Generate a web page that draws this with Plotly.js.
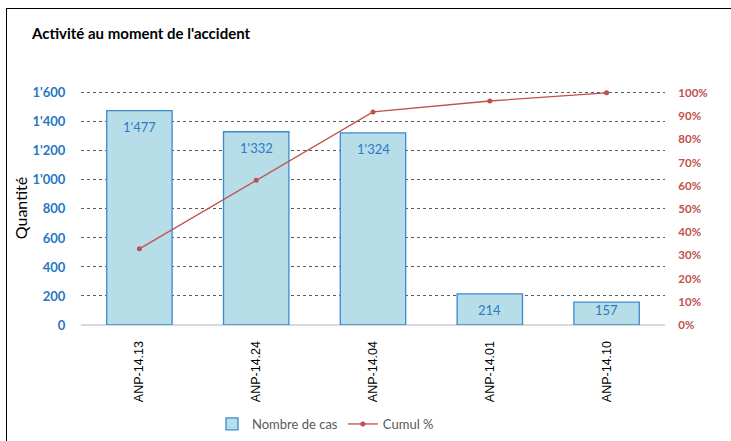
<!DOCTYPE html>
<html>
<head>
<meta charset="utf-8">
<script src="https://cdn.plot.ly/plotly-3.0.1.min.js"></script>
<style>
html,body{margin:0;padding:0;background:#fff;overflow:hidden;width:731px;height:441px;}
#wrap{position:relative;width:731px;height:441px;overflow:hidden;}
#chart{position:absolute;left:0;top:0;width:731px;height:441px;}
#frame{position:absolute;left:6px;top:8px;width:900px;height:900px;border-left:1.5px solid #000;border-top:1.5px solid #000;pointer-events:none;}
</style>
</head>
<body>
<div id="wrap">
<div id="chart"></div>
<div id="frame"></div>
</div>
<script>
const categories = ["ANP-14.13", "ANP-14.24", "ANP-14.04", "ANP-14.01", "ANP-14.10"];
const nombreDeCas = [1477, 1332, 1324, 214, 157];
const cumulPct = [0.328, 0.624, 0.918, 0.965, 1.0];
const leftTicks = [0, 200, 400, 600, 800, 1000, 1200, 1400, 1600];
const rightTicks = [0, 0.1, 0.2, 0.3, 0.4, 0.5, 0.6, 0.7, 0.8, 0.9, 1.0];

const fmt = v => v.toLocaleString('en-US').replace(/,/g, "'");

const bars = {
  type: 'bar',
  name: 'Nombre de cas',
  x: categories,
  y: nombreDeCas,
  marker: {color: '#B7DDE8', line: {color: '#3A8AD0', width: 1.3}},
  hoverinfo: 'skip'
};

const line = {
  type: 'scatter',
  mode: 'lines+markers',
  name: 'Cumul %',
  x: categories,
  y: cumulPct,
  yaxis: 'y2',
  line: {color: '#C0504D', width: 1.3},
  marker: {color: '#C0504D', size: 5},
  cliponaxis: false,
  hoverinfo: 'skip'
};

// data labels placed "inside end" like Excel, kept above the axis for short bars
const labelAnnotations = categories.map((c, i) => ({
  x: c, y: Math.max(nombreDeCas[i] - 110, 100), xref: 'x', yref: 'y',
  text: fmt(nombreDeCas[i]),
  showarrow: false, yanchor: 'middle',
  font: {family: 'Lato, sans-serif', size: 13, color: '#2A7BC6'}
}));

const pad = 1.008; // small headroom so the top gridline is drawn

const layout = {
  width: 731, height: 441,
  margin: {l: 81, r: 66, t: 91, b: 116, pad: 0},
  paper_bgcolor: '#fff', plot_bgcolor: '#fff',
  separators: ".'",
  bargap: 0.44,
  showlegend: true,
  title: {
    text: "<b>Activité au moment de l'accident</b>",
    font: {family: 'Lato, sans-serif', size: 15, color: '#000'},
    x: 32 / 731, xanchor: 'left', xref: 'container',
    y: 1 - 34 / 441, yanchor: 'middle', yref: 'container'
  },
  xaxis: {
    type: 'category',
    automargin: false,
    tickangle: -90,
    tickfont: {family: 'Liberation Sans, Arial, sans-serif', size: 12.5, color: '#000'},
    showgrid: false, showline: false, zeroline: false,
    ticks: 'outside', ticklen: 10, tickcolor: 'rgba(0,0,0,0)',
    fixedrange: true
  },
  yaxis: {
    automargin: false,
    range: [0, 1600 * pad],
    tickvals: leftTicks,
    tickformat: ',d',
    tickfont: {family: 'Lato, sans-serif', size: 13, color: '#1F77C4', weight: 'bold'},
    showgrid: true, gridcolor: '#5a5a5a', griddash: 'dot', gridwidth: 1,
    zeroline: true, zerolinecolor: '#D9D9D9', zerolinewidth: 1.3,
    showline: false,
    ticks: 'outside', ticklen: 12, tickcolor: 'rgba(0,0,0,0)',
    title: {text: 'Quantité', font: {family: 'Lato, sans-serif', size: 16, color: '#000'}, standoff: 0},
    fixedrange: true
  },
  yaxis2: {
    automargin: false,
    overlaying: 'y', side: 'right',
    range: [0, 1 * pad],
    tickvals: rightTicks,
    tickformat: '.0%',
    tickfont: {family: 'Lato, sans-serif', size: 11.5, color: '#C0504D', weight: 'bold'},
    showgrid: false, zeroline: false, showline: false,
    ticks: 'outside', ticklen: 10, tickcolor: 'rgba(0,0,0,0)',
    fixedrange: true
  },
  legend: {
    orientation: 'h',
    xref: 'container', yref: 'container',
    x: 212 / 731, xanchor: 'left',
    y: 1 - 424 / 441, yanchor: 'middle',
    font: {family: 'Lato, sans-serif', size: 13, color: '#595959'},
    itemwidth: 30,
    tracegroupgap: 0,
    traceorder: 'normal'
  },
  annotations: labelAnnotations
};

Plotly.newPlot('chart', [bars, line], layout, {displayModeBar: false, staticPlot: true});
</script>
</body>
</html>
